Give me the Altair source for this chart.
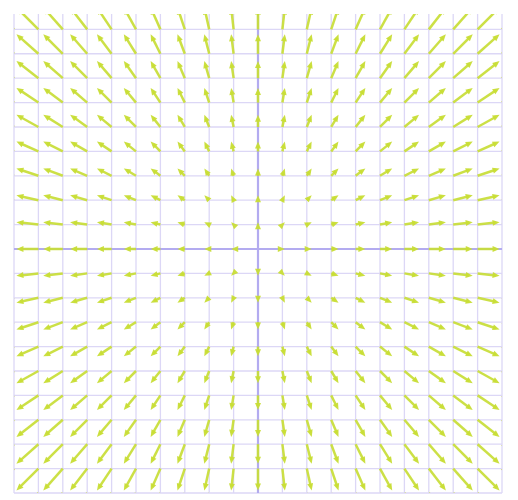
import math
import altair as alt
import pandas as pd

# Grid coordinates (tick positions) and field components
xs = [-10, -9, -8, -7, -6, -5, -4, -3, -2, -1, 0, 1, 2, 3, 4, 5, 6, 7, 8, 9, 10]
ys = [-10, -9, -8, -7, -6, -5, -4, -3, -2, -1, 0, 1, 2, 3, 4, 5, 6, 7, 8, 9, 10]
u_by_col = [-1.0, -0.9, -0.8, -0.7, -0.6, -0.5, -0.4, -0.3, -0.2, -0.1, 0.0,
            0.1, 0.2, 0.3, 0.4, 0.5, 0.6, 0.7, 0.8, 0.9, 1.0]
v_by_row = [-1.0, -0.9, -0.8, -0.7, -0.6, -0.5, -0.4, -0.3, -0.2, -0.1, 0.0,
            0.1, 0.2, 0.3, 0.4, 0.5, 0.6, 0.7, 0.8, 0.9, 1.0]
axis_lines = [0]

X_DOMAIN = [-10, 10]
Y_DOMAIN = [-10, 9.63]
W, H = 488, 479
PX_PER_UNIT = W / (X_DOMAIN[1] - X_DOMAIN[0])
GAP = 4 / PX_PER_UNIT  # shaft stops a little before the tip (in data units)

rows = []
for i, x in enumerate(xs):
    for j, y in enumerate(ys):
        u = u_by_col[i]
        v = v_by_row[j]
        L = math.hypot(u, v)
        if L == 0:
            continue
        hx, hy = x + u, y + v
        if L > GAP:
            sx2, sy2 = x + u * (L - GAP) / L, y + v * (L - GAP) / L
            has_shaft = 1
        else:
            sx2, sy2 = x, y
            has_shaft = 0
        ang = math.degrees(math.atan2(u, v)) % 360
        rows.append(dict(x=x, y=y, hx=hx, hy=hy, sx2=sx2, sy2=sy2,
                         shaft=has_shaft, ang=ang))
df = pd.DataFrame(rows)
grid_x = pd.DataFrame({"g": xs})
grid_y = pd.DataFrame({"g": ys[:-1]})
ax_df = pd.DataFrame({"g": axis_lines})

xscale = alt.Scale(domain=X_DOMAIN, nice=False, zero=False)
yscale = alt.Scale(domain=Y_DOMAIN, nice=False, zero=False)

ARROW = "#c8dd36"
GRID = "#dcd7f6"
AXIS = "#b3abf0"

vgrid = alt.Chart(grid_x).mark_rule(color=GRID, strokeWidth=1.3).encode(
    x=alt.X("g:Q", scale=xscale, axis=None))
hgrid = alt.Chart(grid_y).mark_rule(color=GRID, strokeWidth=1.3).encode(
    y=alt.Y("g:Q", scale=yscale, axis=None))
vaxis = alt.Chart(ax_df).mark_rule(color=AXIS, strokeWidth=2.2).encode(
    x=alt.X("g:Q", scale=xscale, axis=None))
haxis = alt.Chart(ax_df).mark_rule(color=AXIS, strokeWidth=2.2).encode(
    y=alt.Y("g:Q", scale=yscale, axis=None))

shafts = alt.Chart(df).transform_filter("datum.shaft == 1").mark_rule(
    color=ARROW, strokeWidth=2.5, clip=True, opacity=0.92, strokeCap="butt"
).encode(
    x=alt.X("x:Q", scale=xscale, axis=None),
    y=alt.Y("y:Q", scale=yscale, axis=None),
    x2="sx2:Q",
    y2="sy2:Q",
)

heads = alt.Chart(df).mark_point(
    shape="M0,0L-0.85,2L0.85,2Z", filled=True, size=49, color=ARROW,
    opacity=0.95, strokeWidth=0, clip=True
).encode(
    x=alt.X("hx:Q", scale=xscale, axis=None),
    y=alt.Y("hy:Q", scale=yscale, axis=None),
    angle=alt.Angle("ang:Q", scale=None),
)

chart = alt.layer(vgrid, hgrid, vaxis, haxis, shafts, heads).properties(
    width=W, height=H, padding=4, background="white"
).configure_view(stroke=None)

chart.save("out.html", embed_options={"renderer": "svg", "actions": False})
